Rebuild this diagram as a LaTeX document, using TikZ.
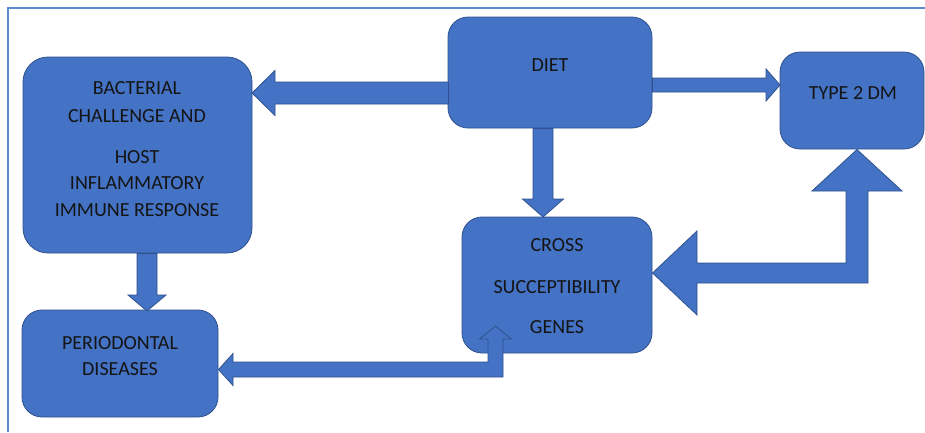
\documentclass[tikz,border=0pt]{standalone}
\usepackage{fontspec}
\setmainfont{Carlito}
\definecolor{boxblue}{HTML}{4472C4}
\definecolor{edgeblue}{HTML}{2F528F}
\definecolor{framebl}{HTML}{5B8BD0}
\definecolor{txt}{HTML}{141414}
\begin{document}
\begin{tikzpicture}[x=1pt,y=-1pt,
 box/.style={draw=edgeblue, line width=0.8pt, fill=boxblue, rounded corners=20pt, inner sep=0pt},
 blk/.style={draw=edgeblue, line width=0.8pt, fill=boxblue, line join=miter},
 lbl/.style={text=txt, font=\fontsize{20}{24}\selectfont, align=center, inner sep=0pt}]
\useasboundingbox (0,0) rectangle (925,432);
\fill[white] (0,0) rectangle (925,432);
\draw[framebl, line width=1.6pt] (8,432) -- (8,8) -- (925,8);

% boxes
\node[box, minimum width=204pt, minimum height=111pt] (diet) at (550,72.5) {};
\node[box, minimum width=229pt, minimum height=196pt, rounded corners=25pt] (bact) at (137.5,155) {};
\node[box, minimum width=144pt, minimum height=97pt] (t2dm) at (852,100.5) {};
\node[box, minimum width=190pt, minimum height=136pt] (cross) at (557,285) {};
\node[box, minimum width=196pt, minimum height=107pt] (perio) at (120,363.5) {};

% block arrows
% diet -> bact
\draw[blk] (252,93) -- (275,70.5) -- (275,82) -- (448.5,82) -- (448.5,104) -- (275,104) -- (275,115.5) -- cycle;
% diet -> type 2 dm
\draw[blk] (780,85) -- (766,69) -- (766,78) -- (652.5,78) -- (652.5,92) -- (766,92) -- (766,101) -- cycle;
% diet -> cross
\draw[blk] (543,217) -- (522.5,199) -- (533,199) -- (533,128.5) -- (553,128.5) -- (553,199) -- (563.5,199) -- cycle;
% bact -> perio
\draw[blk] (147,311) -- (128,295) -- (137,295) -- (137,253.5) -- (157,253.5) -- (157,295) -- (166,295) -- cycle;
% cross <-> perio
\draw[blk] (218.5,369.5) -- (233,353.5) -- (233,362) -- (488,362) -- (488,339) -- (479.5,339)
  -- (495.5,326) -- (511.5,339) -- (503,339) -- (503,377) -- (233,377) -- (233,385.5) -- cycle;
% cross <-> type 2 dm
\draw[blk] (652.5,273) -- (697,231) -- (697,263) -- (846,263) -- (846,191) -- (812,191)
  -- (857,149.5) -- (902,191) -- (868,191) -- (868,283) -- (697,283) -- (697,315) -- cycle;

% labels
\node[lbl] (dietT) at (550,65) {DIET};
\node[lbl] (t2T) at (853,93) {TYPE 2 DM};
\node[lbl] (b1) at (137,88) {BACTERIAL};
\node[lbl] (b2) at (137,116) {CHALLENGE AND};
\node[lbl] (b3) at (137,157) {HOST};
\node[lbl] (b4) at (137,183) {INFLAMMATORY};
\node[lbl] (b5) at (137,210) {IMMUNE RESPONSE};
\node[lbl] (c1) at (557,245) {CROSS};
\node[lbl] (c2) at (557,287) {SUCCEPTIBILITY};
\node[lbl] (c3) at (557,327) {GENES};
\node[lbl] (p1) at (120,343) {PERIODONTAL};
\node[lbl] (p2) at (120,369) {DISEASES};
\end{tikzpicture}
\end{document}
